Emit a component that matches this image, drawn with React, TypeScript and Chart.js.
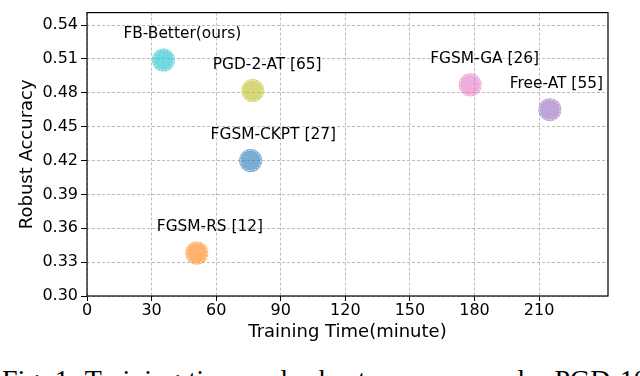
import React, { useEffect, useRef } from "react";
import { Chart, registerables } from "chart.js";

Chart.register(...registerables);

// ---- data ----
const methods = [
  "FB-Better(ours)",
  "PGD-2-AT [65]",
  "FGSM-CKPT [27]",
  "FGSM-GA [26]",
  "Free-AT [55]",
  "FGSM-RS [12]",
];
const trainingTime = [35.5, 77, 76, 178, 215, 51];
const robustAccuracy = [0.509, 0.482, 0.42, 0.487, 0.465, 0.338];
const pointColors = [
  "rgba(23,190,207,0.6)",
  "rgba(188,189,34,0.6)",
  "rgba(31,119,180,0.6)",
  "rgba(227,119,194,0.6)",
  "rgba(148,103,189,0.6)",
  "rgba(255,127,14,0.6)",
];
const xTicks = [0, 30, 60, 90, 120, 150, 180, 210];
const yTicks = [0.3, 0.33, 0.36, 0.39, 0.42, 0.45, 0.48, 0.51, 0.54];
const xTitle = "Training Time(minute)";
const yTitle = "Robust Accuracy";
const caption = "Fig. 1: Training time and robust accuracy under PGD-10";

const FONT = "'DejaVu Sans', sans-serif";

const decorPlugin = {
  id: "decor",
  afterDatasetsDraw(chart: any) {
    const ctx = chart.ctx;
    const meta = chart.getDatasetMeta(0);
    ctx.save();
    meta.data.forEach((pt: any) => {
      ctx.beginPath();
      ctx.arc(pt.x, pt.y, 10.2, 0, Math.PI * 2);
      ctx.setLineDash([2, 1.5]);
      ctx.strokeStyle = "rgba(255,255,255,0.8)";
      ctx.lineWidth = 0.9;
      ctx.stroke();
    });
    ctx.setLineDash([]);
    ctx.font = `15.4px ${FONT}`;
    ctx.fillStyle = "#000";
    ctx.textAlign = "left";
    ctx.textBaseline = "alphabetic";
    meta.data.forEach((pt: any, i: number) => {
      ctx.fillText(methods[i], pt.x - 40, pt.y - 21.8);
    });
    ctx.restore();
  },
  afterDraw(chart: any) {
    const { ctx, chartArea } = chart;
    ctx.save();
    ctx.strokeStyle = "#000";
    ctx.lineWidth = 1.2;
    ctx.strokeRect(
      chartArea.left,
      chartArea.top,
      chartArea.right - chartArea.left,
      chartArea.bottom - chartArea.top
    );
    ctx.restore();
  },
};

export default function App() {
  const ref = useRef<HTMLCanvasElement | null>(null);

  useEffect(() => {
    if (!ref.current) return;
    const chart = new Chart(ref.current, {
      type: "scatter",
      data: {
        datasets: [
          {
            data: trainingTime.map((x, i) => ({ x, y: robustAccuracy[i] })),
            pointRadius: 11.5,
            pointHoverRadius: 11.5,
            pointBackgroundColor: pointColors,
            pointBorderWidth: 0,
            pointBorderColor: "rgba(0,0,0,0)",
          },
        ],
      },
      options: {
        responsive: false,
        animation: false,
        devicePixelRatio: 1,
        layout: { padding: { left: 0, top: 1, right: 32, bottom: 0 } },
        plugins: {
          legend: { display: false },
          tooltip: { enabled: false },
        },
        scales: {
          x: {
            type: "linear",
            min: 0,
            max: 242,
            afterBuildTicks: (s: any) => {
              s.ticks = xTicks.map((v) => ({ value: v }));
            },
            afterFit: (s: any) => {
              s.height = 49;
            },
            ticks: {
              color: "#000",
              font: { family: FONT, size: 16, lineHeight: 1 },
              padding: 2,
              maxRotation: 0,
              autoSkip: false,
              callback: (v: any) => String(v),
            },
            grid: {
              color: "rgba(176,176,176,0.85)",
              lineWidth: 1,
              tickColor: "#000",
              tickLength: 5,
              tickWidth: 1,
              tickBorderDash: [],
            },
            border: { display: false, dash: [3, 2] },
            title: {
              display: true,
              text: xTitle,
              color: "#000",
              font: { family: FONT, size: 18 },
              padding: { top: 0, bottom: 2 },
            },
          },
          y: {
            type: "linear",
            min: 0.3,
            max: 0.551,
            afterBuildTicks: (s: any) => {
              s.ticks = yTicks.map((v) => ({ value: v }));
            },
            afterFit: (s: any) => {
              s.width = 87;
            },
            ticks: {
              color: "#000",
              font: { family: FONT, size: 16 },
              padding: 3,
              autoSkip: false,
              callback: (v: any) => Number(v).toFixed(2),
            },
            grid: {
              color: "rgba(176,176,176,0.85)",
              lineWidth: 1,
              tickColor: "#000",
              tickLength: 6,
              tickWidth: 1,
              tickBorderDash: [],
            },
            border: { display: false, dash: [3, 2] },
            title: {
              display: true,
              text: yTitle,
              color: "#000",
              font: { family: FONT, size: 18 },
              padding: { top: 17, bottom: 0 },
            },
          },
        },
      },
      plugins: [decorPlugin],
    } as any);
    return () => chart.destroy();
  }, []);

  return (
    <div
      style={{
        position: "fixed",
        left: 0,
        top: 0,
        width: 640,
        height: 376,
        overflow: "hidden",
        background: "#fff",
      }}
    >
      <canvas ref={ref} width={640} height={345} style={{ display: "block" }} />
      <div
        style={{
          position: "absolute",
          left: 2,
          top: 366,
          whiteSpace: "nowrap",
          fontFamily: "'Liberation Serif', serif",
          fontSize: 28,
          lineHeight: "28px",
          wordSpacing: 1.5,
          color: "#000",
        }}
      >
        {caption}
      </div>
    </div>
  );
}
